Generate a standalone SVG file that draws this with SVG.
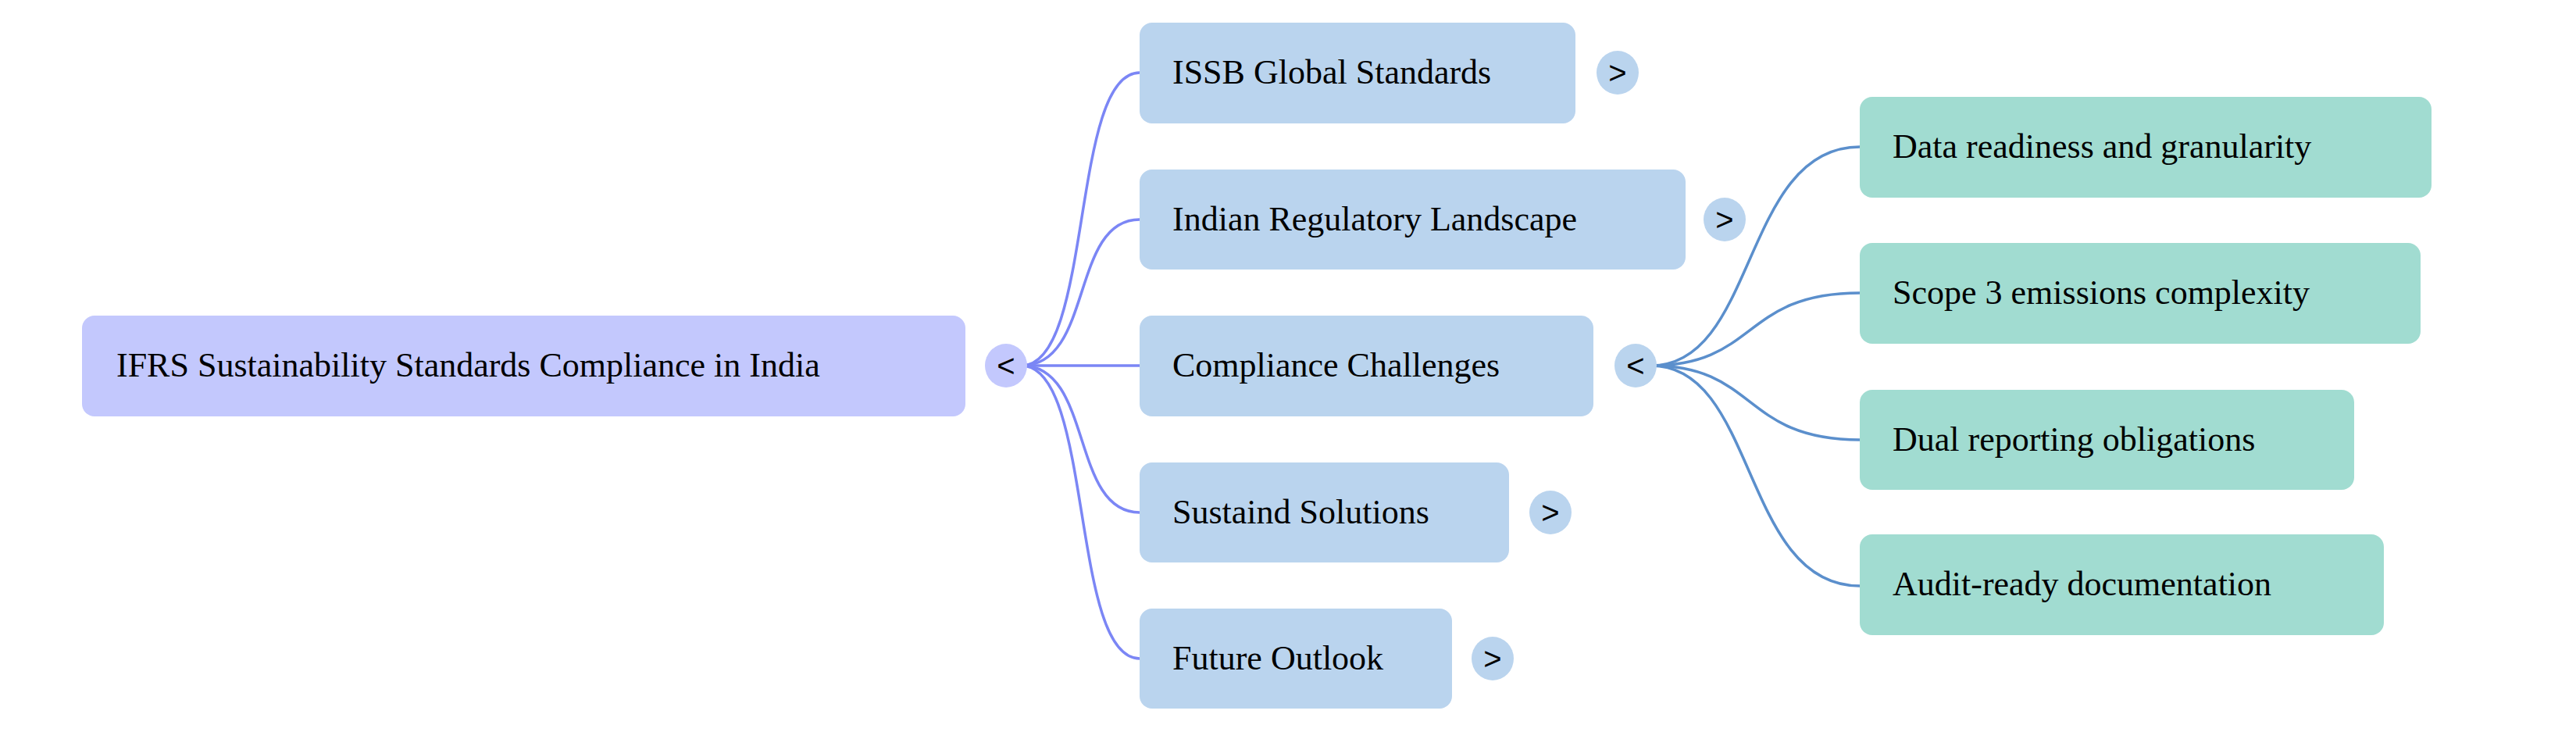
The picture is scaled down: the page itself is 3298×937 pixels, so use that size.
<svg xmlns="http://www.w3.org/2000/svg" width="3298" height="937" viewBox="0 0 3298 937">
<style>
.t{font-family:"Liberation Serif","Times New Roman",serif;font-size:44px;fill:#000}
.c{font-family:"Liberation Sans",Arial,sans-serif;font-size:40px;fill:#000;text-anchor:middle}
.r{fill:#c3c8fd}.l1{fill:#bad4ee}.l2{fill:#a1dcd1}
.e1{fill:none;stroke:#7b86f5;stroke-width:3.5}
.e2{fill:none;stroke:#5b8fcc;stroke-width:3.5}
</style>
<rect width="3298" height="937" fill="#fff"/>
<g id="connectors">
<path class="e1" d="M1308 468 C1400 468 1370 93 1459 93"/>
<path class="e1" d="M1308 468 C1400 468 1370 281 1459 281"/>
<path class="e1" d="M1308 468 L1459 468" stroke-width="6"/>
<path class="e1" d="M1308 468 C1400 468 1370 656 1459 656"/>
<path class="e1" d="M1308 468 C1400 468 1370 843 1459 843"/>
<path class="e2" d="M2114 468 C2250 468 2230 188 2381 188"/>
<path class="e2" d="M2114 468 C2250 468 2230 375 2381 375"/>
<path class="e2" d="M2114 468 C2250 468 2230 563 2381 563"/>
<path class="e2" d="M2114 468 C2250 468 2230 750 2381 750"/>
</g>
<g id="root"><rect class="r" x="105" y="404" width="1131" height="129" rx="16"/><text class="t" x="149" y="482">IFRS Sustainability Standards Compliance in India</text>
<ellipse class="r" cx="1288" cy="468" rx="27" ry="28"/><text class="c" x="1288" y="482">&lt;</text></g>
<g id="issb"><rect class="l1" x="1459" y="29" width="558" height="129" rx="16"/><text class="t" x="1501" y="107">ISSB Global Standards</text>
<ellipse class="l1" cx="2071" cy="93" rx="27" ry="28"/><text class="c" x="2071" y="107">&gt;</text></g>
<g id="indian"><rect class="l1" x="1459" y="217" width="699" height="128" rx="16"/><text class="t" x="1501" y="295">Indian Regulatory Landscape</text>
<ellipse class="l1" cx="2208" cy="281" rx="27" ry="28"/><text class="c" x="2208" y="295">&gt;</text></g>
<g id="compliance"><rect class="l1" x="1459" y="404" width="581" height="129" rx="16"/><text class="t" x="1501" y="482">Compliance Challenges</text>
<ellipse class="l1" cx="2094" cy="468" rx="27" ry="28"/><text class="c" x="2094" y="482">&lt;</text></g>
<g id="sustaind"><rect class="l1" x="1459" y="592" width="473" height="128" rx="16"/><text class="t" x="1501" y="670">Sustaind Solutions</text>
<ellipse class="l1" cx="1985" cy="656" rx="27" ry="28"/><text class="c" x="1985" y="670">&gt;</text></g>
<g id="future"><rect class="l1" x="1459" y="779" width="400" height="128" rx="16"/><text class="t" x="1501" y="857">Future Outlook</text>
<ellipse class="l1" cx="1911" cy="843" rx="27" ry="28"/><text class="c" x="1911" y="857">&gt;</text></g>
<g id="data"><rect class="l2" x="2381" y="124" width="732" height="129" rx="16"/><text class="t" x="2423" y="202">Data readiness and granularity</text></g>
<g id="scope"><rect class="l2" x="2381" y="311" width="718" height="129" rx="16"/><text class="t" x="2423" y="389">Scope 3 emissions complexity</text></g>
<g id="dual"><rect class="l2" x="2381" y="499" width="633" height="128" rx="16"/><text class="t" x="2423" y="577">Dual reporting obligations</text></g>
<g id="audit"><rect class="l2" x="2381" y="684" width="671" height="129" rx="16"/><text class="t" x="2423" y="762">Audit-ready documentation</text></g>
</svg>
